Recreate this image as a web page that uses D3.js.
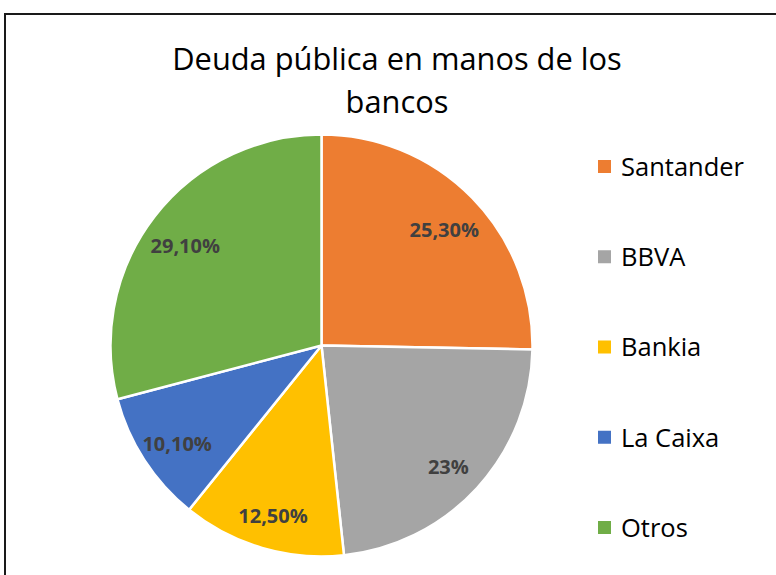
<!DOCTYPE html>
<html><head><meta charset="utf-8">
<script src="https://cdn.jsdelivr.net/npm/d3@7"></script>
<style>body{margin:0;background:#fff;} svg{display:block;}</style>
</head><body>
<svg id="c" width="776" height="575"></svg>
<script>
const categories = ["Santander", "BBVA", "Bankia", "La Caixa", "Otros"];
const values = [25.3, 23, 12.5, 10.1, 29.1];
const labels = ["25,30%", "23%", "12,50%", "10,10%", "29,10%"];
const colors = ["#ED7D31", "#A5A5A5", "#FFC000", "#4472C4", "#70AD47"];
const titleLines = ["Deuda pública en manos de los", "bancos"];

const FONT = "'Open Sans', sans-serif";
const svg = d3.select("#c");
svg.append("rect").attr("x", 5).attr("y", 14).attr("width", 800).attr("height", 600)
  .attr("fill", "#fff").attr("stroke", "#1a1a1a").attr("stroke-width", 2);

svg.append("g").selectAll("text").data(titleLines).join("text")
  .attr("x", 397).attr("y", (d, i) => 70 + i * 43)
  .attr("text-anchor", "middle").attr("font-family", FONT).attr("font-size", 30.8)
  .attr("fill", "#000").text(d => d);

const cx = 321.5, cy = 345.5, R = 211;
const data = categories.map((c, i) => ({ name: c, value: values[i], label: labels[i], color: colors[i] }));
const pie = d3.pie().value(d => d.value).sort(null);
const arcs = pie(data);
const arc = d3.arc().innerRadius(0).outerRadius(R);
const labelArc = d3.arc().innerRadius(172).outerRadius(172);
const g = svg.append("g").attr("transform", `translate(${cx},${cy})`);
g.selectAll("path").data(arcs).join("path")
  .attr("d", arc).attr("fill", d => d.data.color)
  .attr("stroke", "#fff").attr("stroke-width", 2.5).attr("stroke-linejoin", "round");
g.selectAll("text").data(arcs).join("text")
  .attr("transform", d => { const [x, y] = labelArc.centroid(d); return `translate(${x},${y + 5})`; })
  .attr("text-anchor", "middle").attr("dy", "0.35em")
  .attr("font-family", FONT).attr("font-weight", "bold").attr("font-size", 20)
  .attr("fill", "#404040").text(d => d.data.label);

const y = d3.scalePoint().domain(categories).range([167, 528]);
const leg = svg.append("g").selectAll("g").data(data).join("g")
  .attr("transform", d => `translate(598,${y(d.name)})`);
leg.append("rect").attr("x", 0).attr("y", -7).attr("width", 13).attr("height", 13)
  .attr("fill", d => d.color);
leg.append("text").attr("x", 23).attr("dy", "0.35em")
  .attr("font-family", FONT).attr("font-size", 25.5).attr("fill", "#000").text(d => d.name);
</script>
</body></html>
